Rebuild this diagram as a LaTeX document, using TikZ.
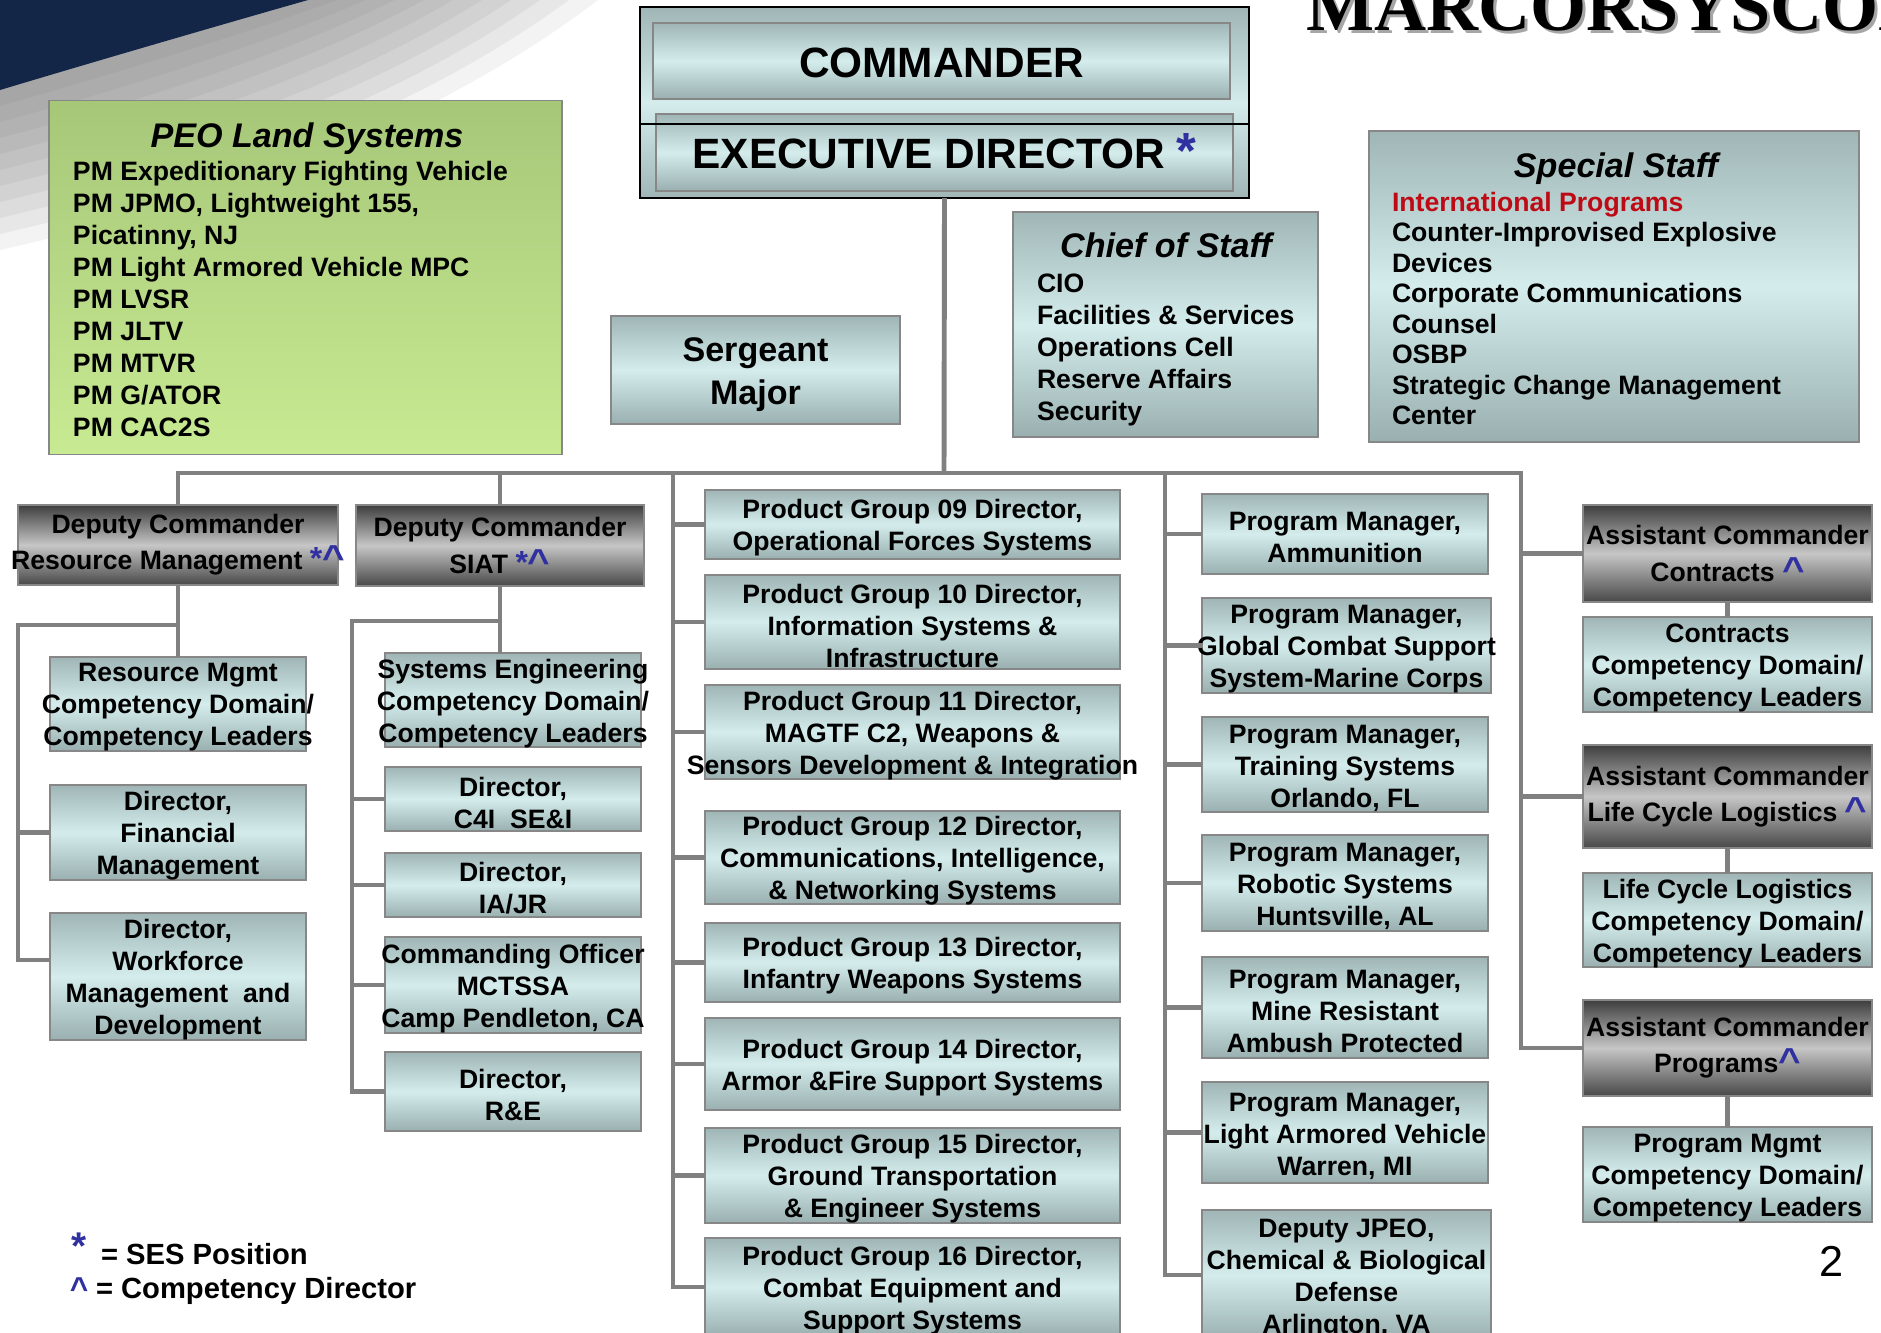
\documentclass[tikz,border=0pt]{standalone}
\usepackage{fontspec}
\usepackage{graphicx}
\setmainfont{Liberation Sans}
\newfontfamily\serifbold{Liberation Serif}
\usetikzlibrary{positioning}

\definecolor{boxedge}{RGB}{135,135,135}
\definecolor{boxtop}{RGB}{160,182,182}
\definecolor{boxmid}{RGB}{212,236,236}
\definecolor{boxbot}{RGB}{154,176,176}
\definecolor{darktop}{RGB}{62,62,62}
\definecolor{darkmid}{RGB}{198,198,198}
\definecolor{darkbot}{RGB}{72,72,72}
\definecolor{peotop}{RGB}{166,199,120}
\definecolor{peobot}{RGB}{200,234,146}
\definecolor{navy}{RGB}{20,38,72}
\definecolor{sesblue}{RGB}{48,48,160}
\definecolor{intlred}{RGB}{190,10,20}
\definecolor{linegray}{RGB}{128,128,128}

\newcommand\sesmark{\textcolor{sesblue}{\scalebox{1.2}{*}}}
\newcommand\cdmark{\textcolor{sesblue}{\scalebox{1.45}[1.3]{\textasciicircum}}}

\begin{document}
\begin{tikzpicture}[x=0.01cm, y=-0.01cm,
  every node/.style={font=\bfseries\fontsize{7.57}{9.1}\selectfont, inner sep=0pt, outer sep=0pt},
  sz/.style 2 args={minimum width=#1*0.01cm, minimum height=#2*0.01cm},
  tealbox/.style={rectangle, draw=boxedge, line width=0.55pt, top color=boxtop, bottom color=boxbot, middle color=boxmid},
  lbox/.style={tealbox, label={[align=center, yshift=-1pt]center:#1}},
  dbox/.style={rectangle, draw=boxedge, line width=0.55pt, top color=darktop, bottom color=darkbot, middle color=darkmid,
               label={[align=center, font=\bfseries\fontsize{7.57}{10.3}\selectfont]center:#1}},
  conn/.style={draw=linegray, line width=1.4pt},
  head/.style={font=\bfseries\itshape\fontsize{9.7}{11}\selectfont},
  list/.style={align=left, anchor=west}
]
\useasboundingbox (0,0) rectangle (1881,1333);
\fill[white] (0,0) rectangle (1881,1333);

% corner swoosh
\foreach \k in {10,...,1}
  \fill[black!60, opacity=0.08] (0,0) -- ({308+29*\k},0) .. controls ({210+22*\k},{28+10*\k}) and ({100+12*\k},{60+14*\k}) .. (0,{90+16*\k}) -- cycle;
\fill[navy] (0,0) -- (308,0) .. controls (210,28) and (100,60) .. (0,90) -- cycle;

% title
\node[font=\serifbold\bfseries\fontsize{20.5}{24}\selectfont, anchor=base west, text=gray!70] (mshadow) at (1309,33) {MARCORSYSCOM};
\node[font=\serifbold\bfseries\fontsize{20.5}{24}\selectfont, anchor=base west] (mtitle) at (1306,30) {MARCORSYSCOM};

% command group
\node[rectangle, draw=black, line width=0.8pt, top color=boxtop, bottom color=boxtop, middle color=boxmid, sz={609}{191}] (cmdbox) at (944.5,102.5) {};
\node[tealbox, sz={577}{76}, label={[yshift=-0.6pt, font=\bfseries\fontsize{12.05}{14}\selectfont]center:COMMANDER}] (cmd) at (941.5,61) {};
\node[tealbox, sz={577}{77}, label={[yshift=0.3pt, font=\bfseries\fontsize{12.05}{14}\selectfont]center:EXECUTIVE DIRECTOR \sesmark}] (exd) at (944.5,152.5) {};
\coordinate (divy) at (0,124);
\draw[black, line width=0.8pt] (cmdbox.west |- divy) -- (cmdbox.east |- divy);

% PEO
\node[rectangle, draw=boxedge, line width=0.55pt, top color=peotop, bottom color=peobot, sz={513}{354}] (peo) at (305.5,277.5) {};
\node[head] (peot) at (307,139) {PEO Land Systems};
\node[list] (peol) at (73,298.5) {PM Expeditionary Fighting Vehicle\\PM JPMO, Lightweight 155,\\Picatinny, NJ\\PM Light Armored Vehicle MPC\\PM LVSR\\PM JLTV\\PM MTVR\\PM G/ATOR\\PM CAC2S};

% staff
\node[tealbox, sz={289}{108}, label={[align=center, yshift=-1.3pt, font=\bfseries\fontsize{9.7}{12}\selectfont]center:Sergeant\\Major}] (sgm) at (755.5,370) {};
\node[tealbox, sz={305}{225}] (cos) at (1165.5,324.5) {};
\node[head] (cost) at (1166,245) {Chief of Staff};
\node[list] (cosl) at (1037,350) {CIO\\Facilities \& Services\\Operations Cell\\Reserve Affairs\\Security};
\node[tealbox, sz={490}{311}] (spec) at (1614,286.5) {};
\node[head] (spect) at (1616,169) {Special Staff};
\node[list, font=\bfseries\fontsize{7.57}{8.66}\selectfont] (specl) at (1392,308.5) {\textcolor{intlred}{International Programs}\\Counter-Improvised Explosive\\Devices\\Corporate Communications\\Counsel\\OSBP\\Strategic Change Management\\Center};

% deputy commanders
\node[dbox={Deputy Commander\\Resource Management \sesmark\cdmark}, sz={320}{80}] (rm) at (178,545) {};
\node[dbox={Deputy Commander\\SIAT \sesmark\cdmark}, sz={288}{81}] (siat) at (500,545.5) {};
\node[lbox={Resource Mgmt\\Competency Domain/\\Competency Leaders}, sz={256}{94}] (rmcd) at (178,704) {};
\node[lbox={Director,\\Financial\\Management}, sz={256}{95}] (fin) at (178,832.5) {};
\node[lbox={Director,\\Workforce\\Management~ and\\Development}, sz={256}{127}] (wf) at (178,976.5) {};
\node[lbox={Systems Engineering\\Competency Domain/\\Competency Leaders}, sz={256}{94}] (se) at (513,700) {};
\node[lbox={Director,\\C4I~ SE\&I}, sz={256}{64}] (c4i) at (513,799) {};
\node[lbox={Director,\\IA/JR}, sz={256}{64}] (iajr) at (513,885) {};
\node[lbox={Commanding Officer\\MCTSSA\\Camp Pendleton, CA}, sz={256}{96}] (co) at (513,985) {};
\node[lbox={Director,\\R\&E}, sz={256}{79}] (re) at (513,1091.5) {};

% product groups
\node[lbox={Product Group 09 Director,\\Operational Forces Systems}, sz={415}{69}] (pg09) at (912.5,524.5) {};
\node[lbox={Product Group 10 Director,\\Information Systems \&\\Infrastructure}, sz={415}{94}] (pg10) at (912.5,622) {};
\node[lbox={Product Group 11 Director,\\MAGTF C2, Weapons \&\\Sensors Development \& Integration}, sz={415}{94}] (pg11) at (912.5,732) {};
\node[lbox={Product Group 12 Director,\\Communications, Intelligence,\\\& Networking Systems}, sz={415}{93}] (pg12) at (912.5,857.5) {};
\node[lbox={Product Group 13 Director,\\Infantry Weapons Systems}, sz={415}{79}] (pg13) at (912.5,962.5) {};
\node[lbox={Product Group 14 Director,\\Armor \&Fire Support Systems}, sz={415}{92}] (pg14) at (912.5,1064) {};
\node[lbox={Product Group 15 Director,\\Ground Transportation\\\& Engineer Systems}, sz={415}{95}] (pg15) at (912.5,1175.5) {};
\node[lbox={Product Group 16 Director,\\Combat Equipment and\\Support Systems}, sz={415}{98}] (pg16) at (912.5,1287) {};

% program managers
\node[lbox={Program Manager,\\Ammunition}, sz={286}{80}] (pma) at (1345,534) {};
\node[lbox={Program Manager,\\Global Combat Support\\System-Marine Corps}, sz={289}{95}] (gcss) at (1346.5,645.5) {};
\node[lbox={Program Manager,\\Training Systems\\Orlando, FL}, sz={286}{95}] (trn) at (1345,764.5) {};
\node[lbox={Program Manager,\\Robotic Systems\\Huntsville, AL}, sz={286}{96}] (rob) at (1345,883) {};
\node[lbox={Program Manager,\\Mine Resistant\\Ambush Protected}, sz={286}{101}] (mrap) at (1345,1007.5) {};
\node[lbox={Program Manager,\\Light Armored Vehicle\\Warren, MI}, sz={286}{101}] (lav) at (1345,1132.5) {};
\node[lbox={Deputy JPEO,\\Chemical \& Biological\\Defense\\Arlington, VA}, sz={289}{130}] (jpeo) at (1346.5,1275) {};

% assistant commanders
\node[dbox={Assistant Commander\\Contracts \cdmark}, sz={289}{97}] (acc) at (1727.5,553.5) {};
\node[lbox={Contracts\\Competency Domain/\\Competency Leaders}, sz={289}{95}] (ccd) at (1727.5,664.5) {};
\node[dbox={Assistant Commander\\Life Cycle Logistics \cdmark}, sz={289}{103}] (acl) at (1727.5,796.5) {};
\node[lbox={Life Cycle Logistics\\Competency Domain/\\Competency Leaders}, sz={289}{94}] (lcd) at (1727.5,920) {};
\node[dbox={Assistant Commander\\Programs\cdmark}, sz={289}{96}] (acp) at (1727.5,1048) {};
\node[lbox={Program Mgmt\\Competency Domain/\\Competency Leaders}, sz={289}{95}] (pcd) at (1727.5,1174.5) {};

% connectors
\coordinate (bus) at (944,473);
\coordinate (pgcol) at (673,473);
\coordinate (pmcol) at (1165,473);
\coordinate (accol) at (1521,473);
\draw[conn] (cmdbox.south) -- (bus);
\draw[conn] (rm.north) |- (accol) -- (accol |- acp.west) -- (acp.west);
\draw[conn] (siat.north) -- (siat.north |- bus);
\draw[conn] (pgcol) -- (pgcol |- pg16.west) -- (pg16.west);
\foreach \b in {pg09,pg10,pg11,pg12,pg13,pg14,pg15}
  \draw[conn] (pgcol |- \b.west) -- (\b.west);
\draw[conn] (pmcol) -- (pmcol |- jpeo.west) -- (jpeo.west);
\foreach \b in {pma,gcss,trn,rob,mrap,lav}
  \draw[conn] (pmcol |- \b.west) -- (\b.west);
\draw[conn] (accol |- acc.west) -- (acc.west);
\draw[conn] (accol |- acl.west) -- (acl.west);
\draw[conn] (acc.south) -- (ccd.north);
\draw[conn] (acl.south) -- (lcd.north);
\draw[conn] (acp.south) -- (pcd.north);

\coordinate (rmcol) at (18,625);
\coordinate (wfstub) at (18,960);
\draw[conn] (rm.south) -- (rmcd.north);
\draw[conn] (rm.south |- rmcol) -- (rmcol) -- (wfstub) -- (wfstub -| wf.west);
\draw[conn] (rmcol |- fin.west) -- (fin.west);

\coordinate (siatcol) at (352,621);
\draw[conn] (siat.south) -- (siat.south |- se.north);
\draw[conn] (siat.south |- siatcol) -- (siatcol) -- (siatcol |- re.west) -- (re.west);
\foreach \b in {c4i,iajr,co}
  \draw[conn] (siatcol |- \b.west) -- (\b.west);

% legend
\node[font=\bfseries\fontsize{11}{12}\selectfont, text=sesblue] (sesstar) at (79,1246) {*};
\node[font=\bfseries\fontsize{8.3}{10}\selectfont, anchor=west] (sesleg) at (101,1254) {= SES Position};
\node[font=\bfseries\fontsize{9}{10}\selectfont, text=sesblue] (cdstar) at (79,1289) {\textasciicircum};
\node[font=\bfseries\fontsize{8.3}{10}\selectfont, anchor=west] (cdleg) at (96,1291) {= Competency Director};
\node[font=\fontsize{12.3}{14}\selectfont] (pnum) at (1832,1261) {2};
\end{tikzpicture}
\end{document}
